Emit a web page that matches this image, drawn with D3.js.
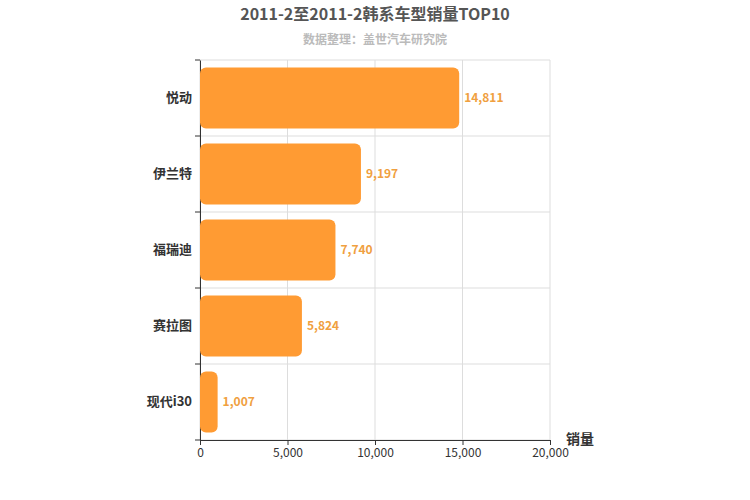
<!DOCTYPE html>
<html><head><meta charset="utf-8">
<script src="https://cdn.jsdelivr.net/npm/d3@7"></script>
<style>body{margin:0;background:#fff}text{font-family:"Noto Sans CJK SC",Arial,sans-serif}</style>
</head><body><svg id="c" width="750" height="500"></svg>
<script>
const categories=["悦动","伊兰特","福瑞迪","赛拉图","现代i30"];
const values=[14811,9197,7740,5824,1007];
const xTicks=[0,5000,10000,15000,20000];
const svg=d3.select("#c");
const L=200,R=550,T=60,B=440;
const x=d3.scaleLinear().domain([0,20000]).range([L,R]);
const y=d3.scaleBand().domain(categories).range([T,B]).paddingInner(0.2).paddingOuter(0.1);
const yb=d3.scaleBand().domain(categories).range([T,B]);
svg.append("text").attr("x",375).attr("y",20).attr("text-anchor","middle").attr("font-size",16).attr("font-weight","bold").attr("fill","#555").text("2011-2至2011-2韩系车型销量TOP10");
svg.append("text").attr("x",375).attr("y",44).attr("text-anchor","middle").attr("font-size",12).attr("font-weight","bold").attr("fill","#bbb").text("数据整理：盖世汽车研究院");
const g=svg.append("g");
xTicks.forEach(t=>g.append("line").attr("x1",x(t)).attr("x2",x(t)).attr("y1",T).attr("y2",B).attr("stroke","#ddd"));
categories.forEach((c,i)=>{g.append("line").attr("x1",L).attr("x2",R).attr("y1",yb(c)).attr("y2",yb(c)).attr("stroke","#ddd");});
g.append("line").attr("x1",L).attr("x2",R).attr("y1",B).attr("y2",B).attr("stroke","#ddd");
// left axis
const ya=svg.append("g").attr("transform",`translate(${L},0)`).call(d3.axisLeft(yb).tickSize(0).tickPadding(8));
ya.select(".domain").attr("stroke","#333");
ya.selectAll("text").attr("font-size",13).attr("font-weight","bold").attr("fill","#333");
categories.concat([null]).forEach((c,i)=>{const yy=c?yb(c):B;svg.append("line").attr("x1",L-5).attr("x2",L).attr("y1",yy).attr("y2",yy).attr("stroke","#333");});
const xa=svg.append("g").attr("transform",`translate(0,${B})`).call(d3.axisBottom(x).tickValues(xTicks).tickFormat(d3.format(",")).tickSize(5));
xa.select(".domain").attr("stroke","#333");
xa.selectAll("line").attr("stroke","#333");
xa.selectAll("text").attr("font-size",12).attr("fill","#333");
svg.append("text").attr("x",580).attr("y",444).attr("text-anchor","middle").attr("font-size",14).attr("font-weight","bold").attr("fill","#333").text("销量");
categories.forEach((c,i)=>{
 svg.append("rect").attr("x",x(0)).attr("y",y(c)).attr("width",x(values[i])-x(0)).attr("height",y.bandwidth()).attr("rx",6).attr("fill","#ff9b33");
 svg.append("text").attr("x",x(values[i])+5).attr("y",y(c)+y.bandwidth()/2+4).attr("font-size",12).attr("font-weight","bold").attr("fill","#f0a040").text(d3.format(",")(values[i]));
});
</script></body></html>
